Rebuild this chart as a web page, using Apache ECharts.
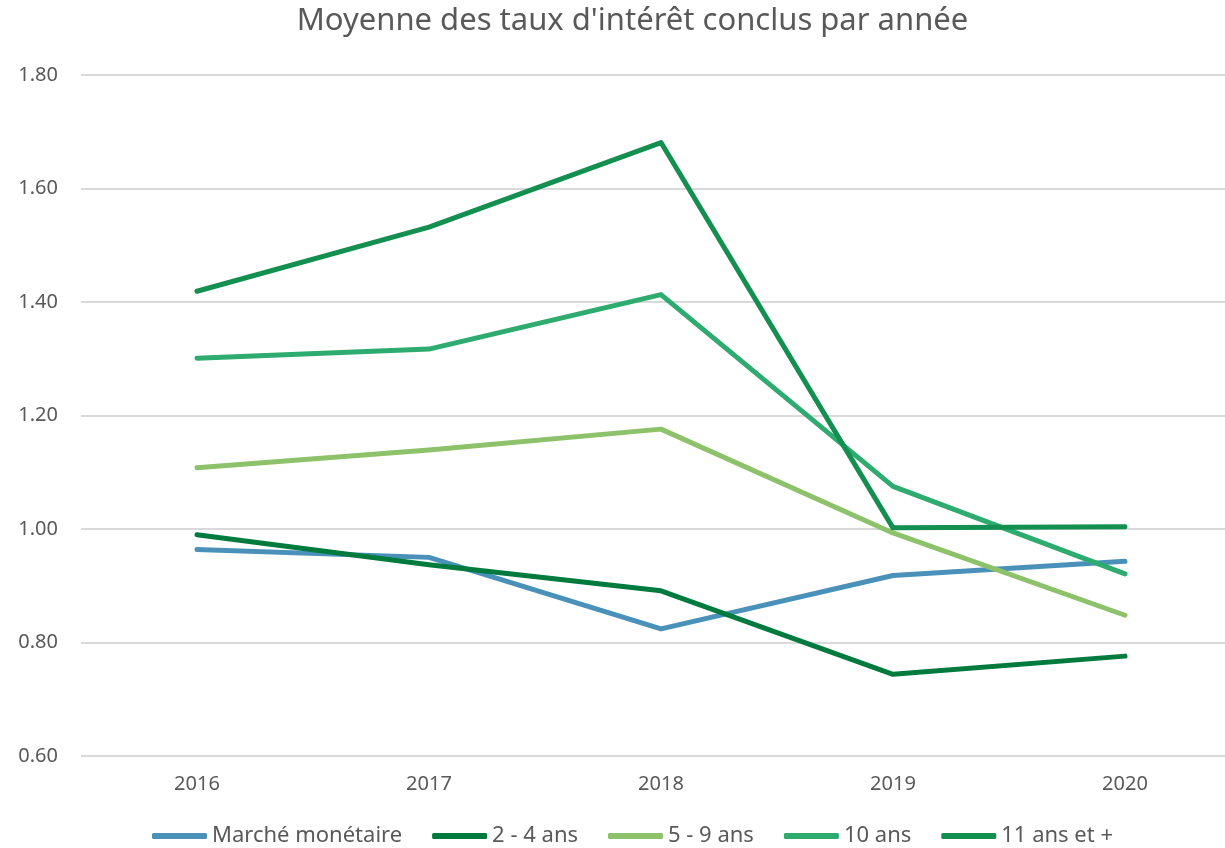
<!DOCTYPE html>
<html lang="fr">
<head>
    <meta charset="UTF-8">
    <title>Moyenne des taux</title>
    <script src="https://cdn.jsdelivr.net/npm/echarts@6/dist/echarts.min.js"></script>
    <style>
        html, body { margin: 0; padding: 0; background: #fff; overflow: hidden; }
        /* un peu plus large que la fenetre : la grille deborde a droite */
        #chart { width: 1265px; height: 848px; }
    </style>
</head>
<body>
<div id="chart"></div>
<script type="text/javascript">
    var annees = ['2016', '2017', '2018', '2019', '2020'];
    var marcheMonetaire = [0.964, 0.950, 0.824, 0.918, 0.943];
    var ans2a4 = [0.990, 0.937, 0.891, 0.744, 0.776];
    var ans5a9 = [1.108, 1.139, 1.176, 0.993, 0.848];
    var ans10 = [1.301, 1.317, 1.413, 1.075, 0.921];
    var ans11plus = [1.419, 1.532, 1.681, 1.002, 1.004];
    var nomsSeries = ['Marché monétaire', '2 - 4 ans', '5 - 9 ans', '10 ans', '11 ans et +'];
    var couleurs = ['#4A91BA', '#007A3D', '#8DC26A', '#2EAB6E', '#13904F'];

    var police = 'Noto Sans';
    var chart = echarts.init(document.getElementById('chart'));

    function serie(nom, data, i) {
        return {
            name: nom,
            type: 'line',
            data: data,
            symbol: 'none',
            lineStyle: { width: 5, color: couleurs[i], cap: 'round', join: 'round' },
            itemStyle: { color: couleurs[i] }
        };
    }

    var option = {
        color: couleurs,
        title: {
            text: "Moyenne des taux d'intérêt conclus par année",
            left: 'center',
            top: 1,
            textStyle: { fontFamily: police, fontSize: 31, fontWeight: 'normal', color: '#595959' }
        },
        grid: { left: 81, right: 24, top: 75, bottom: 92 },
        legend: {
            bottom: -4,
            left: 'center',
            icon: 'roundRect',
            itemWidth: 55,
            itemHeight: 6,
            itemGap: 30,
            textStyle: { fontFamily: police, fontSize: 22, color: '#595959' },
            data: nomsSeries
        },
        xAxis: {
            type: 'category',
            data: annees,
            boundaryGap: true,
            axisLine: { show: false },
            axisTick: { show: false },
            axisLabel: { fontFamily: police, fontSize: 20, color: '#595959', margin: 18 }
        },
        yAxis: {
            type: 'value',
            min: 0.6,
            max: 1.8,
            interval: 0.2,
            axisLine: { show: false },
            axisTick: { show: false },
            axisLabel: {
                fontFamily: police, fontSize: 20, color: '#595959', margin: 23,
                formatter: function (v) { return v.toFixed(2); }
            },
            splitLine: { lineStyle: { color: '#D9D9D9', width: 2 } }
        },
        series: [
            serie(nomsSeries[0], marcheMonetaire, 0),
            serie(nomsSeries[1], ans2a4, 1),
            serie(nomsSeries[2], ans5a9, 2),
            serie(nomsSeries[3], ans10, 3),
            serie(nomsSeries[4], ans11plus, 4)
        ]
    };
    chart.setOption(option);
    window.addEventListener('resize', function () {
        chart.resize();
    });
</script>
</body>
</html>
